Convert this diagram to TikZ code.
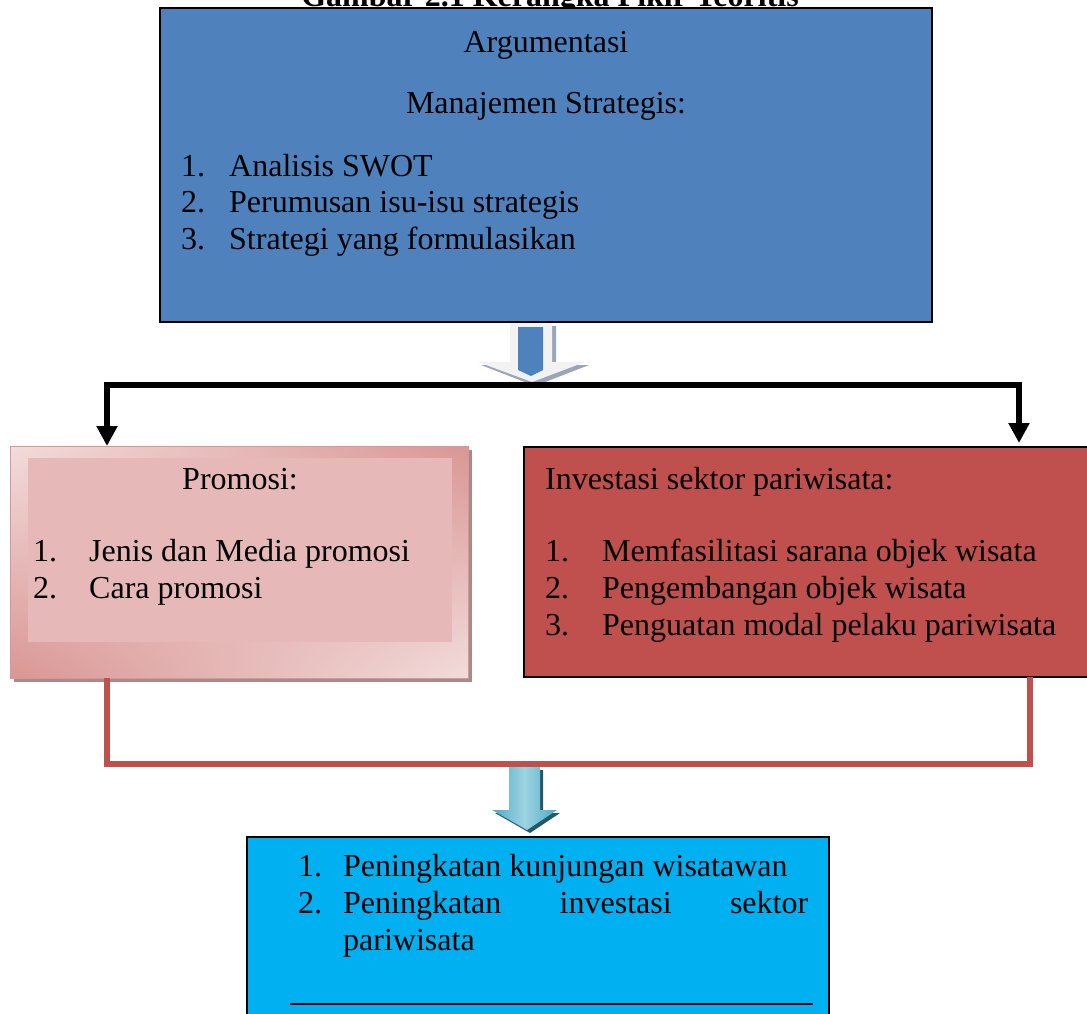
\documentclass[tikz,border=0pt]{standalone}
\usepackage{fontspec}
\setmainfont{Liberation Serif}
\usetikzlibrary{arrows.meta,shadings}
\definecolor{topblue}{HTML}{4F81BD}
\definecolor{invred}{HTML}{C0504D}
\definecolor{resblue}{HTML}{00B0F0}
\definecolor{pinkin}{HTML}{E6B8B7}
\definecolor{pdark}{HTML}{D99694}
\definecolor{plight}{HTML}{F2DCDB}
\definecolor{pshadow}{HTML}{A98A8A}
\definecolor{arrlight}{HTML}{F2F2F2}
\definecolor{arrshadow}{HTML}{9AA6B8}
\definecolor{cyanA}{HTML}{4BACC6}
\definecolor{cyanB}{HTML}{9ED3E2}
\definecolor{cyanS}{HTML}{215968}
\begin{document}
\begin{tikzpicture}[x=1pt,y=-1pt,
  box/.style={draw=black, line width=1.5pt, anchor=north west, inner sep=0pt, outer sep=0pt},
  txt/.style={font=\fontsize{32}{37}\selectfont, inner sep=0pt, anchor=base west},
  ctxt/.style={font=\fontsize{32}{37}\selectfont, inner sep=0pt, anchor=base},
  blk/.style={line width=6pt, draw=black},
  redl/.style={line width=6.5pt, draw=invred}]
\useasboundingbox (0,0) rectangle (1087,1013);
\clip (0,0) rectangle (1087,1013);

% title (cut off at top, as in the reference)
\node[font=\fontsize{32}{37}\selectfont\bfseries, inner sep=0pt, anchor=base] (title) at (550,6) {Gambar 2.1 Kerangka Pikir Teoritis};

% top box
\node[box, fill=topblue, minimum width=772pt, minimum height=314pt] (top) at (160,8) {};
\node[ctxt] (arg) at (546,52) {Argumentasi};
\node[ctxt] (ms) at (546,113) {Manajemen Strategis:};
\node[txt] (t1n) at (181,176) {1.};
\node[txt] (t1) at (229,176) {Analisis SWOT};
\node[txt] (t2n) at (181,212) {2.};
\node[txt] (t2) at (229,212) {Perumusan isu-isu strategis};
\node[txt] (t3n) at (181,249) {3.};
\node[txt] (t3) at (229,249) {Strategi yang formulasikan};

% top block arrow
\fill[arrshadow] (514,326) -- (556,326) -- (556,365) -- (589,365) -- (535,386) -- (481,365) -- (514,365) -- cycle;
\fill[arrlight] (510,323) -- (552,323) -- (552,362) -- (585,362) -- (532,382) -- (478,362) -- (510,362) -- cycle;
\fill[topblue] (518,327) -- (543,327) -- (543,370) -- (531,376) -- (518,370) -- cycle;

% Promosi box
\fill[pshadow] (14,450) rectangle (472,682);
\node[box, draw=pdark, line width=1pt, upper left=plight, upper right=pdark, lower left=pdark, lower right=plight, minimum width=458pt, minimum height=232pt] (promo) at (10,446) {};
\fill[pinkin] (28,458) rectangle (452,642);
\node[ctxt] (ph) at (240,489) {Promosi:};
\node[txt] (p1n) at (33,561) {1.};
\node[txt] (p1) at (89,561) {Jenis dan Media promosi};
\node[txt] (p2n) at (33,598) {2.};
\node[txt] (p2) at (89,598) {Cara promosi};

% Investasi box
\node[box, fill=invred, minimum width=600pt, minimum height=230pt] (inv) at (524,447) {};
\node[txt] (ih) at (545,489) {Investasi sektor pariwisata:};
\node[txt] (i1n) at (545,561) {1.};
\node[txt] (i1) at (602,561) {Memfasilitasi sarana objek wisata};
\node[txt] (i2n) at (545,598) {2.};
\node[txt] (i2) at (602,598) {Pengembangan objek wisata};
\node[txt] (i3n) at (545,635) {3.};
\node[txt] (i3) at (602,635) {Penguatan modal pelaku pariwisata};

% black split connector
\coordinate (jL) at (107,385);
\coordinate (jR) at (1019,385);
\draw[blk, line join=miter, {Triangle[width=20pt,length=20pt]}-{Triangle[width=20pt,length=20pt]}]
  (jL |- promo.north) -- (jL) -- (jR) -- ([yshift=4pt]jR |- inv.north);

% red join connector
\coordinate (rL) at (107,764);
\coordinate (rR) at (1030,764);
\draw[redl, line join=miter] (jL |- promo.south) -- (rL) -- (rR) -- (rR |- inv.south);

% cyan block arrow
\fill[cyanS] (512,770) -- (543,770) -- (543,813) -- (560,813) -- (530,833) -- (495,813) -- (512,813) -- cycle;
\shade[left color=cyanA, right color=cyanA, middle color=cyanB] (509,767) -- (540,767) -- (540,810) -- (557,810) -- (527,830) -- (492,810) -- (509,810) -- cycle;

% result box
\node[box, fill=resblue, minimum width=582pt, minimum height=250pt] (res) at (247,837) {};
\node[txt] (r1n) at (298,876) {1.};
\node[txt] (r1) at (343,876) {Peningkatan kunjungan wisatawan};
\node[txt] (r2n) at (298,913) {2.};
\node[txt] (r2) at (343,913) {\makebox[465pt][s]{Peningkatan investasi sektor}};
\node[txt] (r3) at (343,950) {pariwisata};
\coordinate (u1) at (290,1004);
\coordinate (u2) at (813,1004);
\draw[line width=2pt] (u1) -- (u2);
\end{tikzpicture}
\end{document}
